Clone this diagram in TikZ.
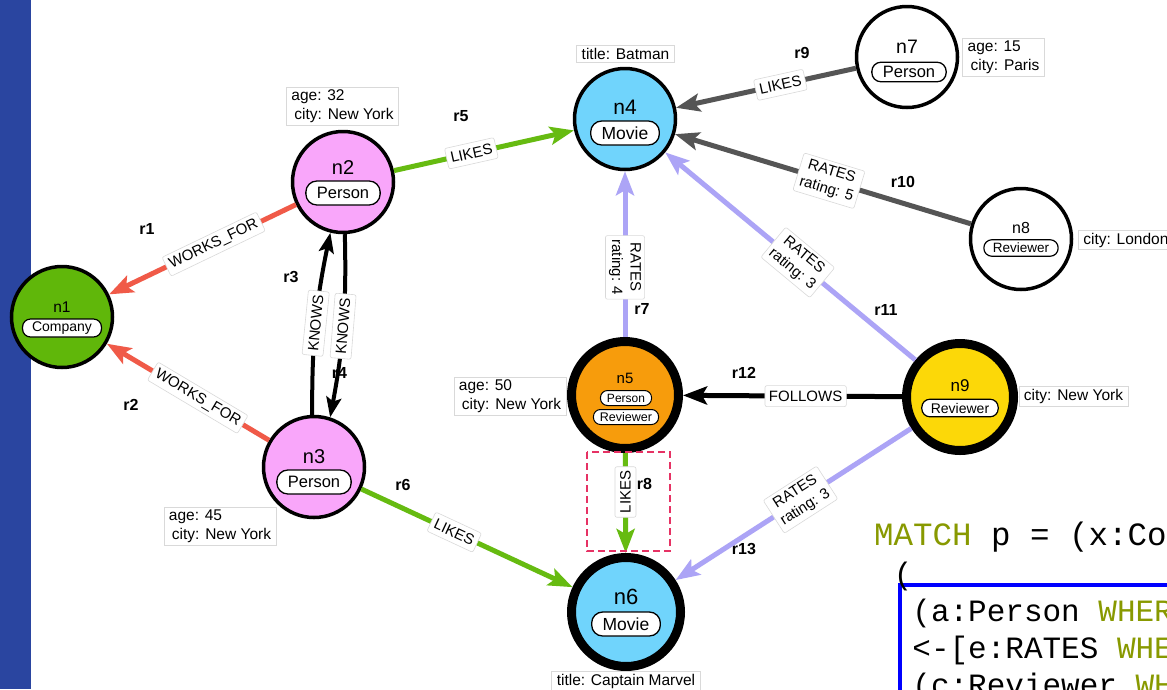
\documentclass[tikz,border=0pt]{standalone}
\usepackage{fontspec}
\setmainfont{Liberation Sans}
\newfontfamily\codefont{Liberation Mono}
\usetikzlibrary{arrows.meta}
\definecolor{stripblue}{RGB}{42,69,160}
\definecolor{cgreen}{RGB}{96,183,10}
\definecolor{cpink}{RGB}{249,166,250}
\definecolor{cblue}{RGB}{112,212,252}
\definecolor{corange}{RGB}{247,156,12}
\definecolor{cyellow}{RGB}{252,216,8}
\definecolor{ered}{RGB}{240,90,72}
\definecolor{egreen}{RGB}{102,187,17}
\definecolor{elav}{RGB}{172,164,246}
\definecolor{egray}{RGB}{85,85,85}
\definecolor{kwgreen}{RGB}{136,153,0}
\definecolor{dashred}{RGB}{230,50,100}
\definecolor{codeblue}{RGB}{0,0,255}
\tikzset{
  tn/.style={circle, draw=black, line width=3.5pt, minimum size=101pt, inner sep=0pt},
  kn/.style={circle, draw=black, line width=9pt, minimum size=107pt, inner sep=0pt},
  idcap/.style={inner sep=0pt, font=\fontsize{20}{22}\selectfont},
  pillL/.style={draw=black, fill=white, line width=1.3pt, rounded corners=11pt, minimum height=24pt, inner ysep=0pt, inner xsep=11pt, font=\fontsize{16.5}{18}\selectfont},
  pillM/.style={draw=black, fill=white, line width=1.2pt, rounded corners=8pt, minimum height=17.5pt, inner ysep=0pt, inner xsep=9pt, font=\fontsize{14}{16}\selectfont},
  pillS/.style={draw=black, fill=white, line width=1pt, rounded corners=7pt, minimum height=15pt, inner ysep=0pt, inner xsep=6.5pt, font=\fontsize{12}{14}\selectfont},
  prop/.style={draw=gray!30, line width=0.8pt, fill=white, align=left, inner xsep=5pt, inner ysep=2.5pt, font=\fontsize{15.5}{19}\selectfont},
  rlab/.style={inner sep=0pt, font=\bfseries\fontsize{16}{18}\selectfont},
  elab/.style={fill=white, draw=gray!30, line width=0.6pt, rounded corners=2pt, inner xsep=4pt, inner ysep=3.5pt, minimum height=21pt, align=center, font=\fontsize{15}{18.5}\selectfont},
  ebase/.style={line width=5pt, -{Stealth[length=24pt, width=18pt, inset=5pt]}},
  wr/.style={ebase, draw=ered},
  lk/.style={ebase, draw=egreen},
  rt/.style={ebase, draw=elav},
  gy/.style={ebase, draw=egray},
  bk/.style={ebase, draw=black},
  kw/.style={line width=4pt, draw=black, -{Stealth[length=20pt, width=15pt, inset=4pt]}},
  code/.style={anchor=base west, inner sep=0pt, font=\codefont\fontsize{31}{36}\selectfont}
}
\begin{document}
\begin{tikzpicture}[x=1pt, y=-1pt]
\useasboundingbox (0,0) rectangle (1167,689);
\clip (0,0) rectangle (1167,689);
\fill[white] (0,0) rectangle (1167,689);
\fill[stripblue] (0,0) rectangle (31,689);

% graph nodes
\node[tn, fill=cgreen] (n1) at (62,317) {};
\node[tn, fill=cpink] (n2) at (343,182) {};
\node[tn, fill=cpink] (n3) at (314,467) {};
\node[tn, fill=cblue] (n4) at (625,119) {};
\node[kn, fill=corange] (n5) at (625,395) {};
\node[kn, fill=cblue, minimum size=109pt] (n6) at (626,612) {};
\node[tn, fill=white] (n7) at (907,57) {};
\node[tn, fill=white] (n8) at (1021,239) {};
\node[kn, fill=cyellow] (n9) at (960,397) {};

% captions
\node[idcap, font=\fontsize{15.5}{17}\selectfont] (n1c) at (62,307) {n1};
\node[idcap] (n2c) at (343,168) {n2};
\node[idcap] (n3c) at (314,457) {n3};
\node[idcap, font=\fontsize{21}{23}\selectfont] (n4c) at (625,107) {n4};
\node[idcap, font=\fontsize{15}{17}\selectfont] (n5c) at (625,378) {n5};
\node[idcap, font=\fontsize{22}{24}\selectfont] (n6c) at (626,597) {n6};
\node[idcap, font=\fontsize{19.5}{21}\selectfont] (n7c) at (907,47) {n7};
\node[idcap, font=\fontsize{16}{18}\selectfont] (n8c) at (1021,228) {n8};
\node[idcap, font=\fontsize{17}{19}\selectfont] (n9c) at (960,386) {n9};

% label pills
\node[pillM, minimum height=18pt, inner xsep=9.5pt] (n1l) at (62,328) {Company};
\node[pillL] (n2l) at (343,193) {Person};
\node[pillL] (n3l) at (314,482) {Person};
\node[pillL, font=\fontsize{17.5}{19}\selectfont] (n4l) at (625,133) {Movie};
\node[pillS] (n5a) at (626,398) {Person};
\node[pillS, font=\fontsize{12.5}{14}\selectfont] (n5b) at (626,417) {Reviewer};
\node[pillL, font=\fontsize{17.5}{19}\selectfont] (n6l) at (626,624) {Movie};
\node[pillL, minimum height=19.5pt, rounded corners=9pt] (n7l) at (909,72) {Person};
\node[pillM, font=\fontsize{13.5}{15}\selectfont, minimum height=16.5pt] (n8l) at (1021,248) {Reviewer};
\node[pillM] (n9l) at (960,408) {Reviewer};

% property boxes
\node[prop] (p2) at (342.5,106) {age: 32\\\hspace*{3pt}city: New York};
\node[prop] (p4) at (625.5,54) {title: Batman};
\node[prop] (p7) at (1003.5,57.5) {age: 15\\\hspace*{3pt}city: Paris};
\node[prop, anchor=west] (p8) at (1078,240) {city: London};
\node[prop] (p3) at (220,526) {age: 45\\\hspace*{3pt}city: New York};
\node[prop] (p5) at (510,396.5) {age: 50\\\hspace*{3pt}city: New York};
\node[prop] (p6) at (626,681) {title: Captain Marvel};
\node[prop] (p9) at (1073.5,396.5) {city: New York};

% relationship ids
\node[rlab] (r1) at (147,229) {r1};
\node[rlab] (r2) at (131,405) {r2};
\node[rlab] (r3) at (291,277) {r3};
\node[rlab] (r4) at (339.5,373) {r4};
\node[rlab] (r5) at (461,116) {r5};
\node[rlab] (r6) at (403,485) {r6};
\node[rlab] (r7) at (642,309) {r7};
\node[rlab] (r8) at (644.5,484) {r8};
\node[rlab] (r9) at (802,53) {r9};
\node[rlab] (r10) at (903,182) {r10};
\node[rlab] (r11) at (886,310) {r11};
\node[rlab] (r12) at (744,373) {r12};
\node[rlab] (r13) at (744,549) {r13};

% relationships
\draw[wr] (n2) -- node[elab, sloped, pos=0.44] {WORKS\_FOR} (n1);
\draw[wr] (n3) -- node[elab, sloped, pos=0.44] {WORKS\_FOR} (n1);
\draw[kw] (n3.92) to[bend left=6] node[elab, sloped, pos=0.5] {KNOWS} (n2.256);
\draw[kw] (n2.272) to[bend left=6] node[elab, sloped, pos=0.5] {KNOWS} (n3.72);
\draw[lk] (n2) -- node[elab, sloped, pos=0.43] {LIKES} (n4);
\draw[lk] (n3) -- node[elab, sloped, pos=0.44] {LIKES} (n6);
\draw[rt] (n5) -- node[elab, rotate=-90, pos=0.42] {RATES\\rating: 4} (n4);
\draw[lk] (n5) -- node[elab, rotate=90, pos=0.39] {LIKES} (n6);
\draw[gy] (n7) -- node[elab, sloped, pos=0.42] {LIKES} (n4);
\draw[gy] (n8) -- node[elab, sloped, pos=0.48] {RATES\\rating: 5} (n4);
\draw[rt] (n9) -- node[elab, sloped, pos=0.47] {RATES\\rating: 3} (n4);
\draw[bk] (n9) -- node[elab, pos=0.44] {FOLLOWS} (n5);
\draw[rt] (n9) -- node[elab, sloped, pos=0.47] {RATES\\rating: 3} (n6);

% highlight box
\draw[dashred, line width=2pt, dash pattern=on 7pt off 4pt] (587,452) rectangle (670,551);

% query text
\draw[codeblue, line width=4pt] (899.5,740) -- (899.5,585) -- (1200,585);
\node[code, font=\codefont\fontsize{32.5}{36}\selectfont] (c1) at (874,545) {\textcolor{kwgreen}{MATCH} p = (x:Com};
\node[code] (c2) at (893.6,584) {(};
\node[code] (c3) at (912.2,621.5) {(a:Person \textcolor{kwgreen}{WHERE}};
\node[code] (c4) at (912.2,658.3) {<-[e:RATES \textcolor{kwgreen}{WHERE}};
\node[code] (c5) at (912.2,695) {(c:Reviewer \textcolor{kwgreen}{WHERE}};
\end{tikzpicture}
\end{document}
